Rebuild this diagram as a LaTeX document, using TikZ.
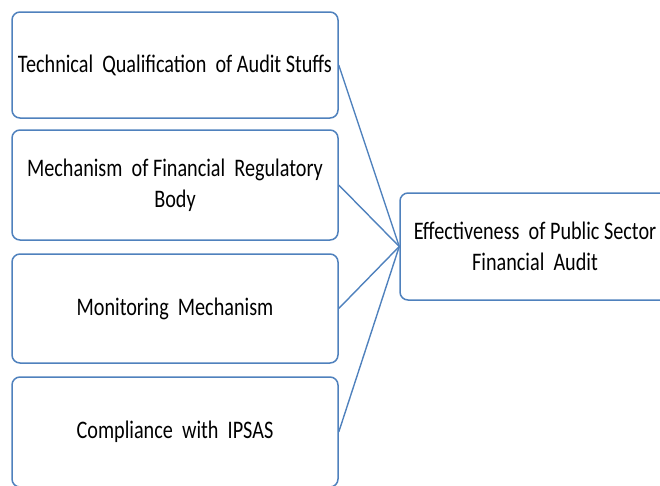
\documentclass[tikz,border=0pt]{standalone}
\usepackage{fontspec}
\setmainfont{Carlito}
\usepackage{graphicx}
\definecolor{boxblue}{RGB}{79,129,189}
\newcommand{\tall}[1]{\scalebox{1}[1.25]{#1}}
\begin{document}
\begin{tikzpicture}[x=1pt,y=-1pt,
  factor/.style={draw=boxblue, line width=1.5pt, rounded corners=8pt,
    minimum width=326pt, align=center, inner sep=0pt,
    font=\fontsize{20.2}{31}\selectfont},
  link/.style={draw=boxblue, line width=1.4pt}]
\useasboundingbox (0,0) rectangle (660,485);
\clip (0,0) rectangle (660,485);
\node[factor, minimum height=106pt] (b1) at (175,65) {\tall{Technical\ \ Qualification\ \ of Audit Stuffs}};
\node[factor, minimum height=110pt] (b2) at (175,185) {\tall{Mechanism\ \ of Financial\ \ Regulatory}\\\tall{Body}};
\node[factor, minimum height=109pt] (b3) at (175,308.5) {\tall{Monitoring\ \ Mechanism}};
\node[factor, minimum height=110pt] (b4) at (175,432) {\tall{Compliance\ \ with\ \ IPSAS}};
\node[factor, minimum width=270pt, minimum height=107pt] (res) at (535,246.5) {\tall{Effectiveness\ \ of Public Sector}\\\tall{Financial\ \ Audit}};
\draw[link] (b1.east) -- (res.west);
\draw[link] (b2.east) -- (res.west);
\draw[link] (b3.east) -- (res.west);
\draw[link] (b4.east) -- (res.west);
\end{tikzpicture}
\end{document}
